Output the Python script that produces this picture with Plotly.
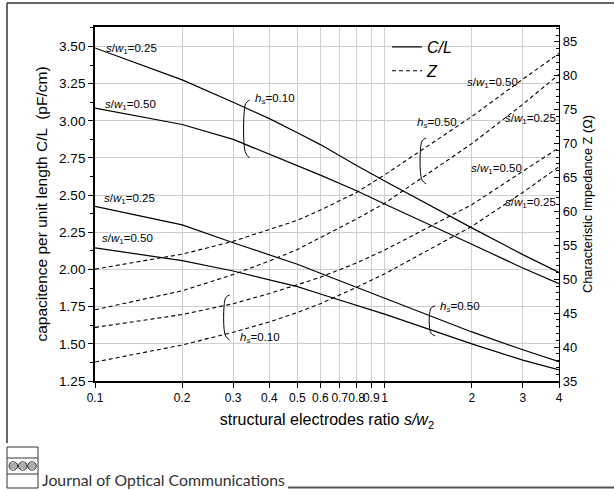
import math
import plotly.graph_objects as go

# structural electrodes ratio s/w2 (log axis)
x_ratio = [0.1, 0.2, 0.3, 0.4, 0.5, 0.6, 0.8, 1.0, 2.0, 3.0, 4.0]

# capacitance per unit length C/L (pF/cm)
cl_h010_sw025 = [3.49, 3.275, 3.125, 3.015, 2.92, 2.84, 2.70, 2.595, 2.28, 2.10, 1.98]
cl_h010_sw050 = [3.085, 2.975, 2.875, 2.775, 2.70, 2.635, 2.53, 2.44, 2.17, 2.01, 1.905]
cl_h050_sw025 = [2.425, 2.30, 2.18, 2.10, 2.035, 1.975, 1.88, 1.81, 1.58, 1.46, 1.38]
cl_h050_sw050 = [2.145, 2.06, 1.99, 1.93, 1.885, 1.835, 1.76, 1.70, 1.50, 1.39, 1.325]

# characteristic impedance Z (Ohm)
z_h050_sw050 = [51.5, 53.7, 55.6, 57.3, 58.7, 60.2, 62.8, 65.4, 74.0, 79.5, 83.3]
z_h050_sw025 = [45.5, 48.3, 50.7, 52.7, 54.4, 56.1, 58.9, 61.2, 70.0, 75.8, 80.2]
z_h010_sw050 = [42.9, 44.8, 46.4, 47.9, 49.2, 50.3, 52.4, 54.3, 61.0, 65.9, 69.4]
z_h010_sw025 = [37.8, 40.3, 42.2, 43.7, 45.1, 46.4, 48.8, 50.8, 57.8, 62.8, 66.6]

x_ticks = [0.1, 0.2, 0.3, 0.4, 0.5, 0.6, 0.7, 0.8, 0.9, 1, 2, 3, 4]
x_tick_labels = ["0.1", "0.2", "0.3", "0.4", "0.5", "0.6", "0.7", "0.8", "0.9", "1", "2", "3", "4"]

FONT = "Liberation Sans, Arial, sans-serif"
W, H = 614, 490
ML, MR, MT, MB = 95, 55, 27, 109

fig = go.Figure()

solid = dict(color="black", width=1.2)
dashed = dict(color="black", width=1.1, dash="4px,3px")

def add_curve(y, line, name=None, axis="y"):
    fig.add_trace(go.Scatter(
        x=x_ratio, y=y, mode="lines", yaxis=axis, line=line,
        name=name or "", showlegend=name is not None, hoverinfo="skip"))

add_curve(cl_h010_sw025, solid, "<i>C/L</i>")
add_curve(cl_h010_sw050, solid)
add_curve(cl_h050_sw025, solid)
add_curve(cl_h050_sw050, solid)
add_curve(z_h050_sw050, dashed, "<i>Z</i>", "y2")
add_curve(z_h050_sw025, dashed, None, "y2")
add_curve(z_h010_sw050, dashed, None, "y2")
add_curve(z_h010_sw025, dashed, None, "y2")

# curly brackets grouping pairs of curves (x in data units, y on C/L axis)
def bracket(xc, y_top, y_bot):
    lx = math.log10(xc)
    h = y_top - y_bot
    pts = [(lx + 0.019, y_top), (lx + 0.006, y_top - 0.06 * h), (lx, y_top - 0.25 * h),
           (lx, y_bot + 0.25 * h), (lx + 0.006, y_bot + 0.08 * h), (lx + 0.019, y_bot)]
    fig.add_trace(go.Scatter(
        x=[10 ** p[0] for p in pts], y=[p[1] for p in pts], mode="lines",
        line=dict(color="black", width=1, shape="spline", smoothing=1.0),
        showlegend=False, hoverinfo="skip"))

bracket(0.327, 3.140, 2.750)
bracket(1.33, 2.885, 2.575)
bracket(0.279, 1.829, 1.526)
bracket(1.43, 1.755, 1.553)

SW = "<i>s</i>/<i>w</i><sub>1</sub>={}"
HS = "<i>h<sub>s</sub></i>={}"
labels = [
    (0.107, 3.48, SW.format("0.25")),
    (0.1066, 3.105, SW.format("0.50")),
    (0.1057, 2.474, SW.format("0.25")),
    (0.104, 2.205, SW.format("0.50")),
    (0.351, 3.147, HS.format("0.10")),
    (1.273, 2.986, HS.format("0.50")),
    (1.90, 3.255, SW.format("0.50")),
    (2.57, 3.012, SW.format("0.25")),
    (1.95, 2.676, SW.format("0.50")),
    (2.57, 2.448, SW.format("0.25")),
    (0.3115, 1.540, HS.format("0.10")),
    (1.527, 1.748, HS.format("0.50")),
]
annotations = []
for xv, yv, txt in labels:
    annotations.append(dict(
        x=math.log10(xv), y=yv, xref="x", yref="y", text=txt, showarrow=False,
        xanchor="left", yanchor="middle", font=dict(family=FONT, size=11.5, color="black")))

# page furniture in paper coordinates
def px(v):
    return (v - ML) / (W - ML - MR)

def py(v):
    return (H - MB - v) / (H - MT - MB)

annotations.append(dict(
    x=px(40), y=py(479), xref="paper", yref="paper", xanchor="left", yanchor="middle",
    text="Journal of Optical Communications", showarrow=False,
    font=dict(family="Lato, sans-serif", size=15.8, color="#333333")))

shapes = []
frame = dict(color="#333333", width=1.5)
shapes.append(dict(type="line", xref="paper", yref="paper", x0=px(7), x1=px(614), y0=py(3), y1=py(3), line=frame))
shapes.append(dict(type="line", xref="paper", yref="paper", x0=px(7), x1=px(7), y0=py(3), y1=py(443), line=frame))
shapes.append(dict(type="line", xref="paper", yref="paper", x0=px(288), x1=px(614), y0=py(487.5), y1=py(487.5),
                   line=dict(color="#555555", width=2)))
logo = dict(color="#333333", width=1)
shapes.append(dict(type="rect", xref="paper", yref="paper", x0=px(7), x1=px(38), y0=py(447), y1=py(488), line=logo))
for yy in (458, 474):
    shapes.append(dict(type="line", xref="paper", yref="paper", x0=px(7), x1=px(38), y0=py(yy), y1=py(yy), line=logo))
for cx in (13.3, 22.7, 32.0):
    shapes.append(dict(type="circle", xref="paper", yref="paper", x0=px(cx - 4.3), x1=px(cx + 4.3),
                       y0=py(466 - 4.3), y1=py(466 + 4.3), line=logo))
    for dy in (-2, 0, 2):
        half = math.sqrt(max(4.3 ** 2 - dy ** 2, 0))
        shapes.append(dict(type="line", xref="paper", yref="paper", x0=px(cx - half), x1=px(cx + half),
                           y0=py(466 + dy), y1=py(466 + dy), line=dict(color="#333333", width=0.8)))

fig.update_layout(
    width=W, height=H,
    margin=dict(l=ML, r=MR, t=MT, b=MB),
    paper_bgcolor="white", plot_bgcolor="white",
    font=dict(family=FONT, color="black"),
    showlegend=True,
    legend=dict(x=px(387), y=py(30), xanchor="left", yanchor="top", bgcolor="rgba(0,0,0,0)",
                font=dict(family=FONT, size=16), tracegroupgap=0),
    xaxis=dict(
        type="log", range=[-1, math.log10(4)], tickvals=x_ticks, ticktext=x_tick_labels, tickangle=0,
        ticks="outside", ticklen=5, tickcolor="black", showline=True, linecolor="black", linewidth=1.6,
        mirror=True, showgrid=True, gridcolor="#cfcfcf", gridwidth=1, zeroline=False,
        tickfont=dict(size=12),
        title=dict(text="structural electrodes ratio <i>s/w</i><sub>2</sub>", font=dict(size=16), standoff=10)),
    yaxis=dict(
        range=[1.25, 3.631], tick0=1.25, dtick=0.25, tickformat=".2f",
        ticks="outside", ticklen=5, tickcolor="black", showline=True, linecolor="black", linewidth=1.8,
        minor=dict(ticks="outside", ticklen=3, dtick=0.125, tick0=1.25, tickcolor="black", showgrid=False),
        showgrid=True, gridcolor="#cfcfcf", gridwidth=1, zeroline=False,
        tickfont=dict(size=13.5),
        title=dict(text="capacitence per unit length C/L  (pF/cm)", font=dict(size=15.5), standoff=8)),
    yaxis2=dict(
        overlaying="y", side="right", range=[35, 87.2], tick0=35, dtick=5,
        ticks="inside", ticklen=5, tickcolor="black", showline=True, linecolor="black", linewidth=1.2,
        minor=dict(ticks="inside", ticklen=3, dtick=1, tick0=35, tickcolor="black", showgrid=False),
        showgrid=False, zeroline=False, tickfont=dict(size=13),
        title=dict(text="Characteristic Impedance Z (\u03a9)", font=dict(size=12.8), standoff=6)),
    annotations=annotations,
    shapes=shapes,
)

fig.write_html("out.html")
